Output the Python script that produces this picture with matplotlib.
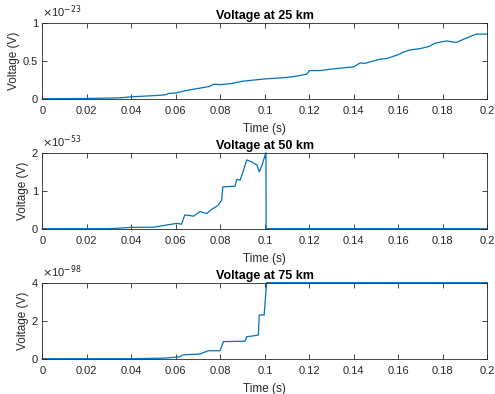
import numpy as np
import matplotlib
matplotlib.use('Agg')
import matplotlib.pyplot as plt
from matplotlib.ticker import FuncFormatter

# time (s) and voltage (in units of the axis exponent)
t25 = [0, 0.01, 0.02, 0.03, 0.035, 0.04, 0.05, 0.055, 0.057, 0.06, 0.065, 0.07, 0.075,
       0.077, 0.08, 0.085, 0.09, 0.095, 0.1, 0.105, 0.11, 0.115, 0.119, 0.12, 0.125,
       0.129, 0.135, 0.14, 0.1428, 0.145, 0.1518, 0.155, 0.16, 0.162, 0.165, 0.17,
       0.174, 0.1765, 0.1817, 0.186, 0.19, 0.195, 0.2]
v25 = [0, 0.001, 0.003, 0.008, 0.012, 0.025, 0.04, 0.05, 0.07, 0.075, 0.11, 0.135, 0.16,
       0.19, 0.185, 0.2, 0.23, 0.245, 0.26, 0.27, 0.28, 0.3, 0.325, 0.37, 0.37,
       0.387, 0.405, 0.42, 0.47, 0.465, 0.52, 0.53, 0.58, 0.61, 0.64, 0.66,
       0.69, 0.73, 0.76, 0.74, 0.79, 0.85, 0.85]

t50 = [0, 0.03, 0.04, 0.05, 0.053, 0.0604, 0.0626, 0.064, 0.066, 0.0679, 0.0709, 0.0739,
       0.0761, 0.0776, 0.079, 0.0806, 0.0811, 0.0866, 0.0874, 0.0889, 0.0904, 0.0919,
       0.094, 0.0964, 0.0975, 0.0986, 0.1005, 0.1006, 0.2]
v50 = [0, 0, 0.035, 0.04, 0.07, 0.14, 0.12, 0.36, 0.35, 0.33, 0.45, 0.40,
       0.51, 0.56, 0.62, 0.75, 1.1, 1.12, 1.30, 1.28, 1.54, 1.81,
       1.76, 1.68, 1.5, 1.65, 2.0, 0, 0]

t75 = [0, 0.04, 0.055, 0.0619, 0.063, 0.0709, 0.0746, 0.0799, 0.0814, 0.0911, 0.0919,
       0.0949, 0.0971, 0.0975, 0.0997, 0.1008, 0.2]
v75 = [0, 0.0, 0.03, 0.1, 0.2, 0.25, 0.42, 0.42, 0.9, 0.92, 1.16,
       1.2, 1.25, 2.3, 2.3, 4.0, 4.0]

titles = ['Voltage at 25 km', 'Voltage at 50 km', 'Voltage at 75 km']
exponents = [-23, -53, -98]
yticks = [[0, 0.5, 1], [0, 1, 2], [0, 2, 4]]
xticks = [0, 0.02, 0.04, 0.06, 0.08, 0.1, 0.12, 0.14, 0.16, 0.18, 0.2]

plt.rcParams['font.family'] = ['Liberation Sans', 'DejaVu Sans']
gray = '#262626'
blue = '#0072BD'

fig = plt.figure(figsize=(4.95, 3.94), dpi=100)
bottoms = [0.7495, 0.4195, 0.0896]
series = [(t25, v25), (t50, v50), (t75, v75)]

for i, (t, v) in enumerate(series):
    ax = fig.add_axes([0.0855, bottoms[i], 0.899, 0.1929])
    scale = 10.0 ** exponents[i]
    ax.plot(t, np.array(v) * scale, color=blue, lw=0.9, clip_on=False)
    ax.set_xlim(0, 0.2)
    ax.set_ylim(yticks[i][0] * scale, yticks[i][-1] * scale)
    ax.set_xticks(xticks)
    ax.set_yticks(np.array(yticks[i]) * scale)
    ax.xaxis.set_major_formatter(FuncFormatter(lambda x, p: '%g' % round(x, 4)))
    ax.yaxis.set_major_formatter(FuncFormatter(lambda y, p, s=scale: '%g' % round(y / s, 4)))
    ax.tick_params(direction='in', length=3.5, width=0.6, labelsize=8, colors=gray,
                   top=True, right=True)
    ax.tick_params(axis='x', pad=5)
    ax.tick_params(axis='y', pad=3)
    for sp in ax.spines.values():
        sp.set_color(gray)
        sp.set_linewidth(0.6)
    ax.set_title(titles[i], fontsize=9, fontweight='bold', color='black', pad=3)
    ax.set_xlabel('Time (s)', fontsize=8.5, color=gray, labelpad=5)
    ax.set_ylabel('Voltage (V)', fontsize=8.5, color=gray, labelpad=2)
    ax.text(0.0, 1.03, r'$\times$10$^{%d}$' % exponents[i], transform=ax.transAxes,
            fontsize=8, color=gray, ha='left', va='bottom')

fig.savefig('out.png', dpi=100)
